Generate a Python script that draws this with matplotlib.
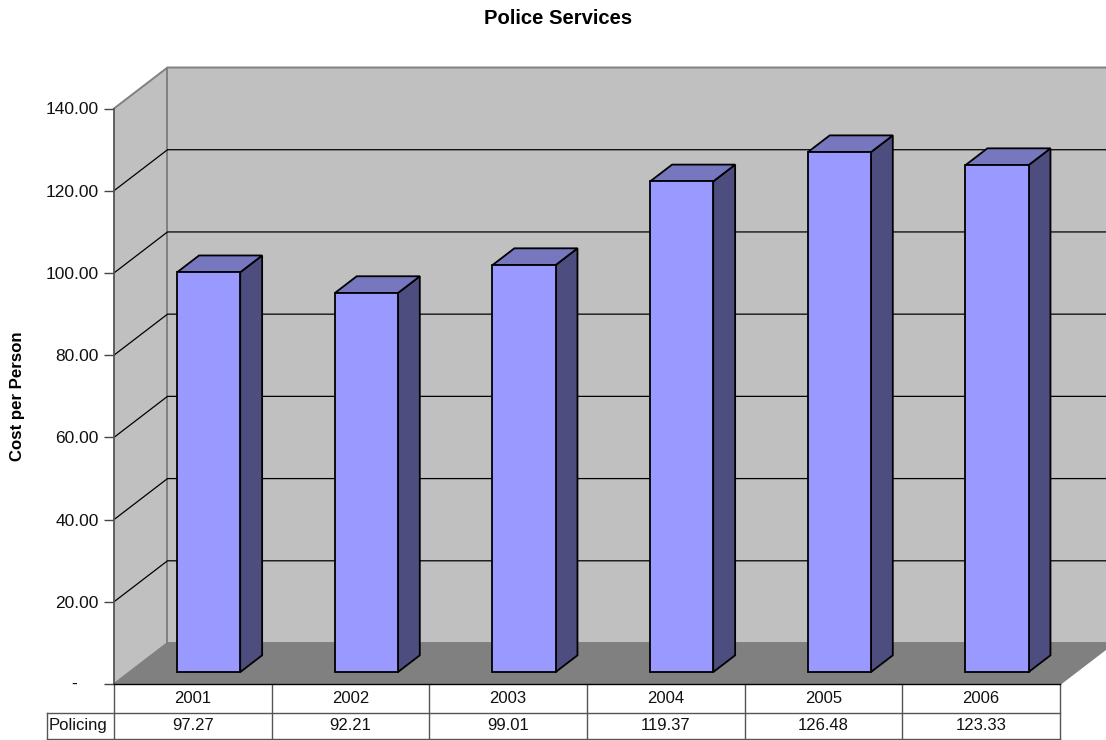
from matplotlib import pyplot as plt
from matplotlib.patches import Polygon

plt.rcParams['font.family'] = ['Liberation Sans', 'DejaVu Sans']

years = ['2001', '2002', '2003', '2004', '2005', '2006']
policing = [97.27, 92.21, 99.01, 119.37, 126.48, 123.33]
value_labels = ['97.27', '92.21', '99.01', '119.37', '126.48', '123.33']
y_ticks = [0, 20, 40, 60, 80, 100, 120, 140]
y_labels = ['', '20.00', '40.00', '60.00', '80.00', '100.00', '120.00', '140.00']

# how far a unit of depth moves a point, in category widths and in cost units
depth_x = 0.3393
depth_y = 9.97
bar_width = 0.40
bar_front = 0.29
bar_back = 0.70


def proj(x, v, d=0):
    return (x + d * depth_x, v + d * depth_y)


def face(ax, pts, color, edge='none', lw=0, z=1):
    ax.add_patch(Polygon(pts, closed=True, facecolor=color, edgecolor=edge,
                         linewidth=lw, joinstyle='miter', clip_on=False, zorder=z))


fig = plt.figure(figsize=(11.06, 7.4), dpi=100)
ax = fig.add_axes([114 / 1106, 56 / 740, 946 / 1106, 575.5 / 740])
ax.set_xlim(0, 6)
ax.set_ylim(0, 140)
ax.patch.set_visible(False)

# walls and floor
face(ax, [proj(0, 0, 1), proj(6, 0, 1), proj(6, 140, 1), proj(0, 140, 1)], '#c0c0c0', z=1)
face(ax, [proj(0, 0), proj(0, 0, 1), proj(0, 140, 1), proj(0, 140)], '#c0c0c0', z=1)
face(ax, [proj(0, 0), proj(6, 0), proj(6, 0, 1), proj(0, 0, 1)], '#808080', z=2)

grey_lines = [
    [proj(0, 140), proj(0, 140, 1), proj(6, 140, 1)],
    [proj(0, 0, 1), proj(0, 140, 1)],
    [proj(0, 0), proj(0, 0, 1), proj(6, 0, 1), proj(6, 0)],
]
for line in grey_lines:
    xs, ys = zip(*line)
    ax.plot(xs, ys, color='#808080', lw=1.4, clip_on=False, zorder=3,
            solid_joinstyle='miter')

# gridlines run along the side wall and then across the back wall
for tick in y_ticks[1:-1]:
    xs, ys = zip(proj(0, tick), proj(0, tick, 1), proj(6, tick, 1))
    ax.plot(xs, ys, color='black', lw=0.9, clip_on=False, zorder=3)

# bars
for i, value in enumerate(policing):
    left = i + 0.5 - bar_width / 2 + 0.002
    right = left + bar_width
    face(ax, [proj(right, 0, bar_front), proj(right, 0, bar_back),
              proj(right, value, bar_back), proj(right, value, bar_front)],
         '#4d4d80', 'black', 1.3, 5)
    face(ax, [proj(left, value, bar_front), proj(right, value, bar_front),
              proj(right, value, bar_back), proj(left, value, bar_back)],
         '#7777bf', 'black', 1.3, 5)
    face(ax, [proj(left, 0, bar_front), proj(right, 0, bar_front),
              proj(right, value, bar_front), proj(left, value, bar_front)],
         '#9999ff', 'black', 1.3, 6)

# value axis
for side in ['top', 'right']:
    ax.spines[side].set_visible(False)
ax.spines['left'].set_color('#555555')
ax.spines['left'].set_linewidth(1.3)
ax.spines['left'].set_zorder(7)
ax.spines['bottom'].set_color('black')
ax.spines['bottom'].set_linewidth(1.0)
ax.spines['bottom'].set_zorder(7)
ax.set_xticks([])
ax.set_yticks(y_ticks)
ax.set_yticklabels(y_labels, fontsize=12.5, color='#111111')
ax.tick_params(axis='y', length=7.2, width=1.0, color='#444444', pad=3.6)
ax.annotate('-', (0, 0), xytext=(-29, 0), textcoords='offset points', fontsize=12.5,
            ha='center', va='center', annotation_clip=False)
ax.set_ylabel('Cost per Person', fontsize=12.1, fontweight='bold', labelpad=0)
ax.yaxis.set_label_coords(-89 / 946, 0.5)
fig.suptitle('Police Services', fontsize=14.6, fontweight='bold', x=558.5 / 1106,
             y=1 - 18 / 740, va='center')

# data table under the plot, its rows measured in axes fractions
row_top = 0
row_mid = -28.7 / 575.5
row_bot = -55 / 575.5
key_left = -67 / 158
trans = ax.get_xaxis_transform()
table_color = '#555555'
for x in range(7):
    ax.plot([x, x], [row_top, row_bot], transform=trans, color=table_color, lw=1.0,
            clip_on=False, zorder=4)
ax.plot([0, 6], [row_mid, row_mid], transform=trans, color=table_color, lw=1.0, clip_on=False)
ax.plot([key_left, 6], [row_bot, row_bot], transform=trans, color=table_color, lw=1.0, clip_on=False)
ax.plot([key_left, 0], [row_mid, row_mid], transform=trans, color=table_color, lw=1.0, clip_on=False)
ax.plot([key_left, key_left], [row_mid, row_bot], transform=trans, color=table_color, lw=1.0,
        clip_on=False)
for i in range(6):
    ax.text(i + 0.5, (row_top + row_mid) / 2, years[i], transform=trans, fontsize=12,
            ha='center', va='center', color='#111111')
    ax.text(i + 0.5, (row_mid + row_bot) / 2, value_labels[i], transform=trans, fontsize=12,
            ha='center', va='center', color='#111111')
ax.text(key_left / 2 - 0.014, (row_mid + row_bot) / 2, 'Policing', transform=trans, fontsize=12,
        ha='center', va='center', color='#111111')

fig.savefig('out.png', dpi=100)
